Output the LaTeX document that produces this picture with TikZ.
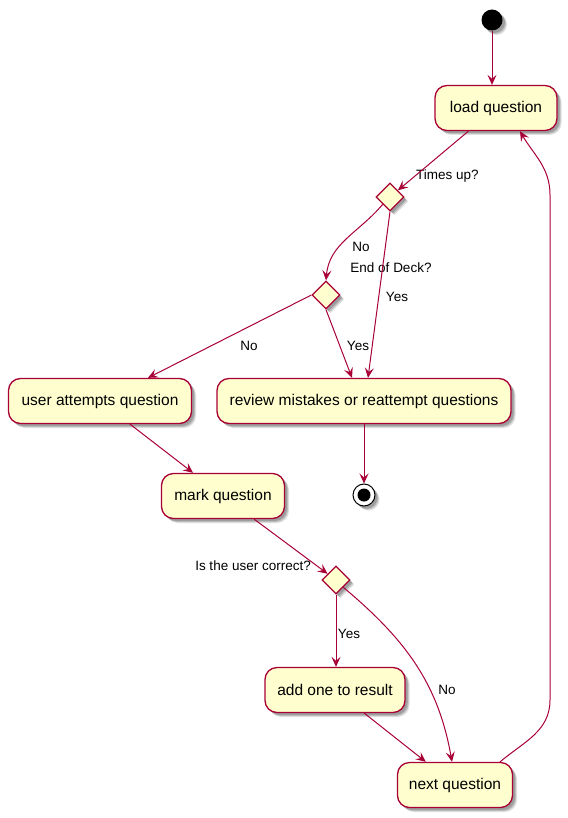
\documentclass[tikz,border=0pt]{standalone}
\usepackage{fontspec}
\setmainfont{Liberation Sans}
\usetikzlibrary{shapes.geometric,arrows.meta,shadows}
\definecolor{act_out}{HTML}{A80036}
\definecolor{act_fil}{HTML}{FEFECE}
\newcommand\hgt{45pt}
\newcommand\rnd{12pt}
\tikzset{myshadow/.style = {drop shadow={shadow xshift=4.5pt, shadow yshift=-4.5pt, opacity=0.12, fill=black},
  drop shadow={shadow xshift=3.5pt, shadow yshift=-3.5pt, opacity=0.15, fill=black},
  drop shadow={shadow xshift=2.5pt, shadow yshift=-2.5pt, opacity=0.18, fill=black}}}
\tikzset{activity/.style = {rectangle, rounded corners=\rnd, draw=act_out, fill=act_fil, line width=1.3pt, minimum height=\hgt, inner xsep=0pt, font=\fontsize{15.5}{18}\selectfont, myshadow}}
\tikzset{branch/.style = {diamond, aspect=1, inner sep=0pt, minimum size=28pt, draw=act_out, fill=act_fil, line width=1.3pt, myshadow}}
\tikzset{guard/.style = {inner sep=0pt, font=\fontsize{13.5}{15}\selectfont}}
\tikzset{flow/.style = {line width=1pt, draw=act_out, -{Stealth[length=10pt,width=9pt,inset=4pt]}}}

\begin{document}
\begin{tikzpicture}[x=1pt,y=1pt]
\useasboundingbox (0,0) rectangle (567,-818);

\node[circle, fill=black, minimum size=21pt, inner sep=0, myshadow] (start) at (492,-20) {};
\node[activity, minimum width=122pt] (load) at (496,-108) {load question};
\node[branch] (d1) at (390,-197) {};
\node[branch] (d2) at (326,-295) {};
\node[activity, minimum width=183pt] (attempt) at (100,-401) {user attempts question};
\node[activity, minimum width=294pt] (review) at (364,-401) {review mistakes or reattempt questions};
\node[circle, draw=black, fill=white, line width=1pt, minimum size=22pt, inner sep=0, myshadow] (stop) at (364,-495) {};
\node[circle, fill=black, minimum size=13pt, inner sep=0] (stopdot) at (stop) {};
\node[activity, minimum width=123pt] (mark) at (223,-496) {mark question};
\node[branch] (d3) at (336,-580) {};
\node[activity, minimum width=140pt] (addone) at (335,-690) {add one to result};
\node[activity, minimum width=115pt] (next) at (455,-785) {next question};

\coordinate (loopdown) at (550,-700);
\coordinate (loopup) at (550,-195);

% guards
\node[guard, anchor=west] (tup) at (416,-176) {Times up?};
\node[guard] (no1) at (361,-247) {No};
\node[guard] (eod) at (391,-268) {End of Deck?};
\node[guard] (yes1) at (397,-297) {Yes};
\node[guard] (no2) at (249,-346) {No};
\node[guard] (yes2) at (358,-346) {Yes};
\node[guard, anchor=east] (iuc) at (311,-566) {Is the user correct?};
\node[guard] (yes3) at (349,-634) {Yes};
\node[guard] (no3) at (447,-690) {No};

\draw[flow] (start.south) -- (start.south |- load.north);
\draw[flow] (load) -- (d1);
\draw[flow] (d1.south west) to[out=-130,in=85] (d2.north);
\draw[flow] (d1.south) -- ([xshift=4pt]review.north);
\draw[flow] (d2.west) -- ([xshift=48pt]attempt.north);
\draw[flow] (d2.south) -- ([xshift=-12pt]review.north);
\draw[flow] (review) -- (stop);
\draw[flow] (attempt) -- (mark);
\draw[flow] (mark) -- (d3);
\draw[flow] (d3.south) -- (d3.south |- addone.north);
\draw[flow] (d3.south east) to[out=-40,in=100] ([xshift=-3pt]next.north);
\draw[flow] (addone) -- (next);
\draw[flow] ([xshift=45pt]next.north) to[out=40,in=-90] (loopdown) -- (loopup) to[out=90,in=-60] ([xshift=24pt]load.south);
\end{tikzpicture}
\end{document}
